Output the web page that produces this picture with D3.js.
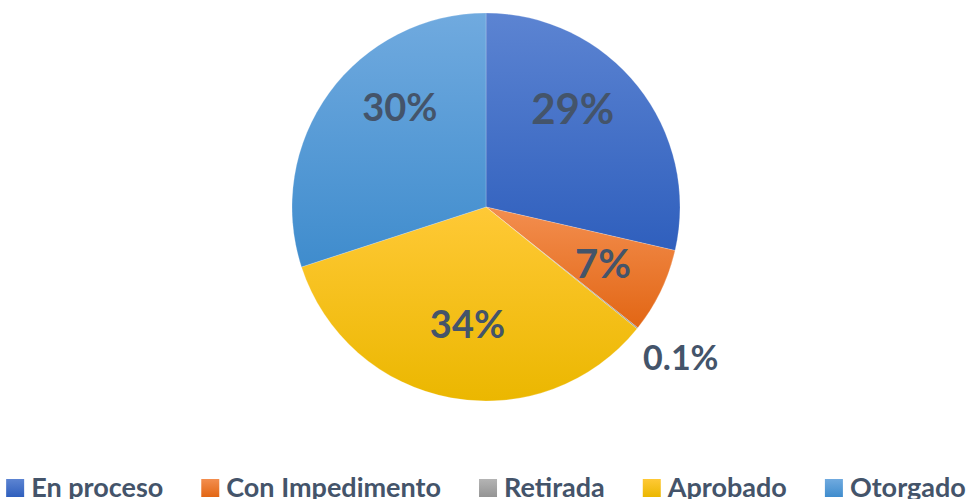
<!DOCTYPE html>
<html lang="en">
<head>
    <meta charset="UTF-8">
    <title>Estado</title>
    <script src="https://d3js.org/d3.v7.min.js"></script>
    <style>
        body { margin: 0; background: #fff; }
        text { font-family: Lato, "Open Sans", sans-serif; font-weight: bold; }
    </style>
</head>
<body>
<script>
    // data
    categories = ["En proceso", "Con Impedimento", "Retirada", "Aprobado", "Otorgado"]
    values = [28.6, 7.1, 0.1, 34.2, 30.0]
    labels = ["29%", "7%", "0.1%", "34%", "30%"]

    // colours: light top, dark bottom
    lightColors = ["#5c84d2", "#f38e4f", "#b4b4b4", "#ffc936", "#70aadf"]
    darkColors = ["#2f5fbd", "#e26614", "#949494", "#ebb700", "#3f8ccd"]

    w = 972
    h = 499
    cx = 486
    cy = 207
    radius = 194
    labelColor = "#44546A"

    svg = d3.select("body")
        .append("svg")
        .attr("width", w)
        .attr("height", h)

    defs = svg.append("defs")
    categories.forEach((c, i) => {
        g = defs.append("linearGradient")
            .attr("id", "grad" + i)
            .attr("x1", 0).attr("y1", 0)
            .attr("x2", 0).attr("y2", 1)
        g.append("stop").attr("offset", "0%").attr("stop-color", lightColors[i])
        g.append("stop").attr("offset", "100%").attr("stop-color", darkColors[i])
    })

    data = categories.map((c, i) => ({name: c, value: values[i], label: labels[i], i: i}))

    pie = d3.pie()
        .sort(null)
        .value((d) => d.value)

    arc = d3.arc()
        .innerRadius(0)
        .outerRadius(radius)

    labelArc = d3.arc()
        .innerRadius(radius * 0.67)
        .outerRadius(radius * 0.67)

    chart = svg.append("g")
        .attr("transform", "translate(" + cx + "," + cy + ")")

    arcs = pie(data)

    chart.selectAll("path.slice")
        .data(arcs)
        .enter()
        .append("path")
        .attr("class", "slice")
        .attr("d", arc)
        .attr("fill", (d) => "url(#grad" + d.data.i + ")")
        .attr("stroke", "rgba(255,255,255,0.35)")
        .attr("stroke-width", 0.6)

    // label placement: tiny slices outside, others inside (Excel best fit)
    labelSize = [42, 40, 34, 38, 38]
    labelNudge = [[-15, -18], [0, 0], [0, 0], [5, -12], [19, -25]]

    chart.selectAll("text.lbl")
        .data(arcs)
        .enter()
        .append("text")
        .attr("class", "lbl")
        .attr("text-anchor", "middle")
        .attr("dominant-baseline", "central")
        .attr("fill", labelColor)
        .style("font-size", (d) => labelSize[d.data.i] + "px")
        .attr("transform", (d) => {
            if (d.endAngle - d.startAngle < 0.05) {
                a = (d.startAngle + d.endAngle) / 2
                r = radius * 1.26
                return "translate(" + (Math.sin(a) * r + 4) + "," + (-Math.cos(a) * r - 3) + ")"
            }
            c = labelArc.centroid(d)
            n = labelNudge[d.data.i]
            return "translate(" + (c[0] + n[0]) + "," + (c[1] + n[1]) + ")"
        })
        .text((d) => d.data.label)

    // legend
    legendFont = 28
    sq = 18
    sqGap = 7
    itemGap = 38
    legendWidth = 960
    legend = svg.append("g").attr("class", "legend")
    items = legend.selectAll("g.item")
        .data(data)
        .enter()
        .append("g")
        .attr("class", "item")
    items.append("rect")
        .attr("width", sq)
        .attr("height", sq)
        .attr("y", -sq)
        .attr("fill", (d) => "url(#grad" + d.i + ")")
    labelsSel = items.append("text")
        .attr("x", sq + sqGap)
        .attr("fill", labelColor)
        .style("font-size", legendFont + "px")
        .text((d) => d.name)

    // shrink font so the legend row fits
    fixed = data.length * (sq + sqGap) + (data.length - 1) * itemGap
    measured = 0
    labelsSel.each(function () { measured += this.getComputedTextLength() })
    fit = Math.min(legendFont, legendFont * (legendWidth - fixed) / measured)
    labelsSel.style("font-size", fit + "px")

    widths = []
    labelsSel.each(function () { widths.push(this.getComputedTextLength()) })
    total = d3.sum(widths) + fixed
    xPos = (w - total) / 2
    items.attr("transform", (d, i) => {
        x0 = xPos
        xPos += sq + sqGap + widths[i] + itemGap
        return "translate(" + x0 + ",497)"
    })
</script>
</body>
</html>
